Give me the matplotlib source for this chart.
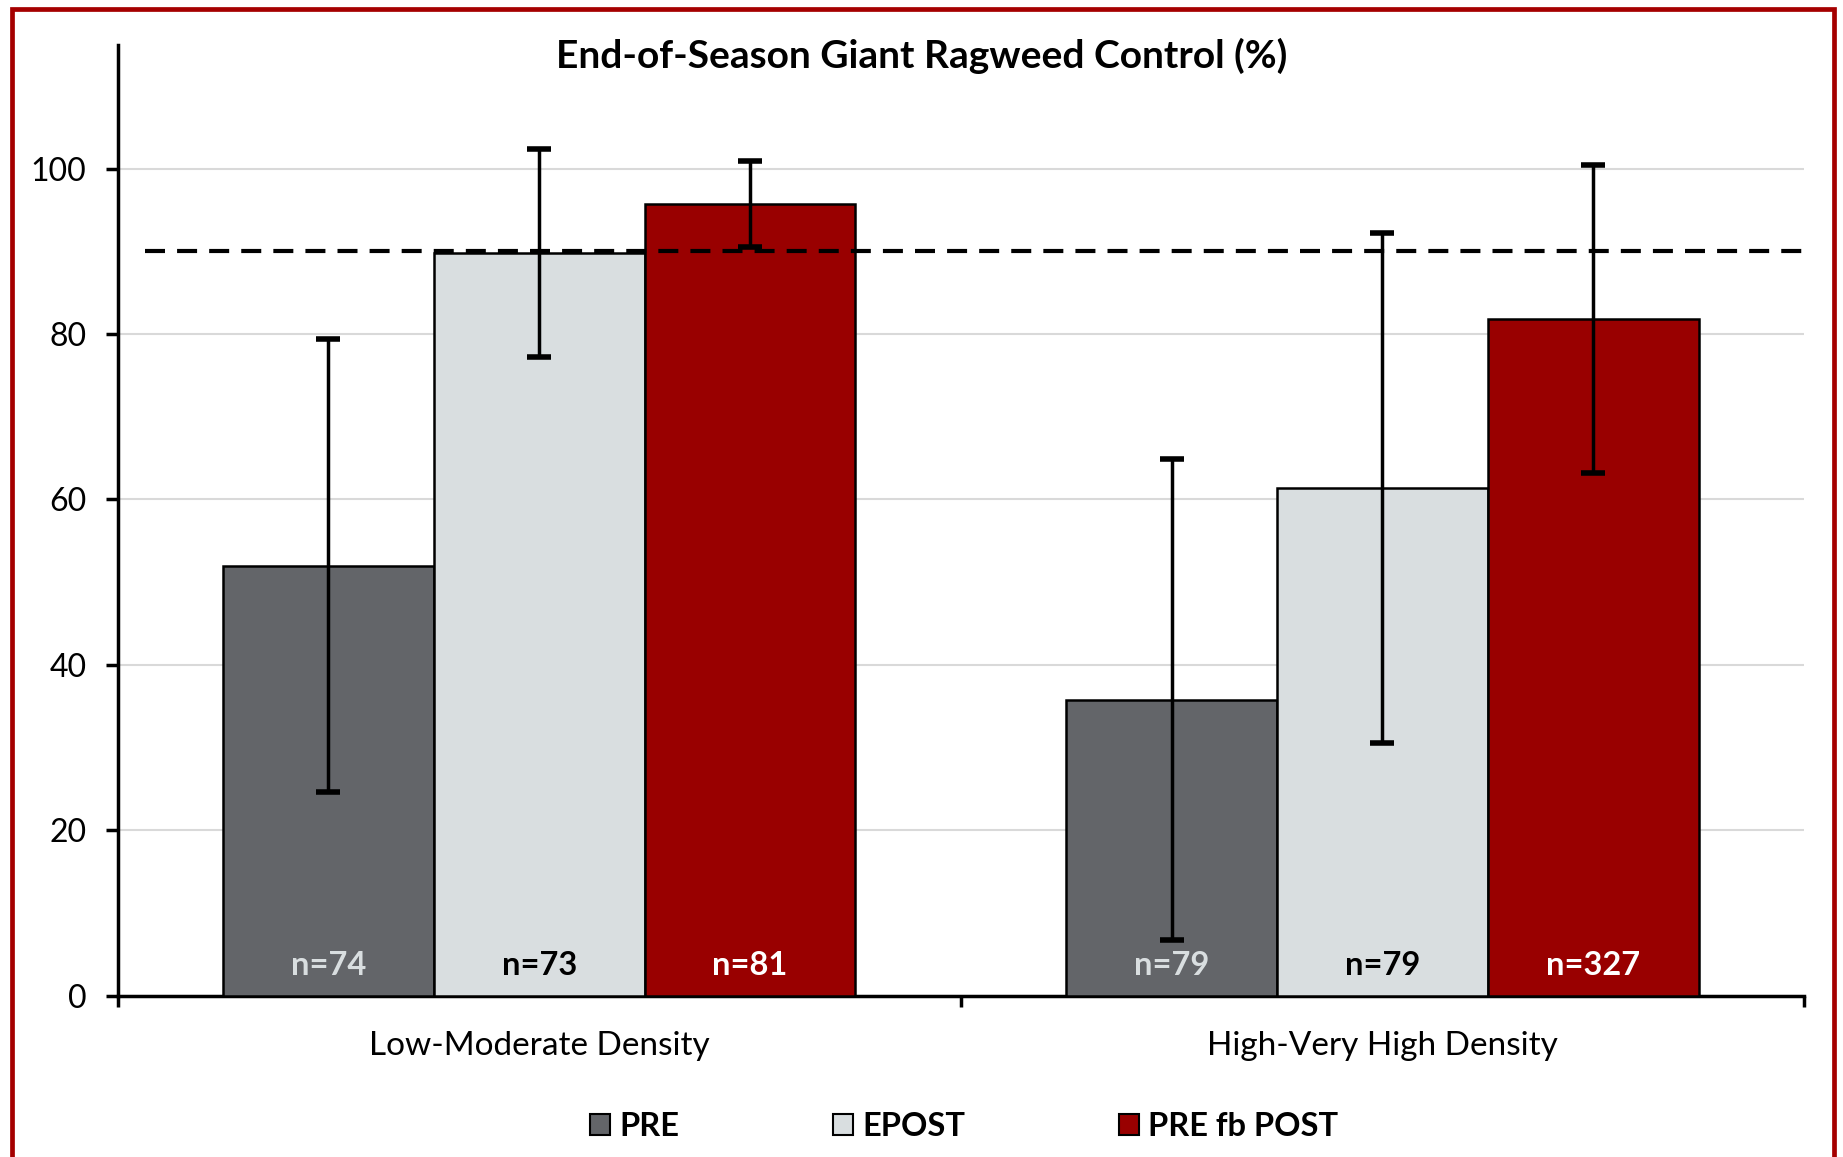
import matplotlib
matplotlib.use("Agg")
import matplotlib.pyplot as plt
from matplotlib.patches import Patch, Rectangle
import numpy as np

plt.rcParams['font.family'] = ['Lato', 'DejaVu Sans']

categories = ["Low-Moderate Density", "High-Very High Density"]
series = ["PRE", "EPOST", "PRE fb POST"]
values = {
    "PRE": [52.0, 35.8],
    "EPOST": [89.8, 61.4],
    "PRE fb POST": [95.7, 81.8],
}
errors = {
    "PRE": [27.4, 29.1],
    "EPOST": [12.6, 30.8],
    "PRE fb POST": [5.2, 18.6],
}
n_labels = {
    "PRE": ["n=74", "n=79"],
    "EPOST": ["n=73", "n=79"],
    "PRE fb POST": ["n=81", "n=327"],
}
threshold = 90
yticks = [0, 20, 40, 60, 80, 100]
title = "End-of-Season Giant Ragweed Control (%)"

colors = {"PRE": "#636569", "EPOST": "#d9dee0", "PRE fb POST": "#990000"}
n_colors = {"PRE": "#d9dee0", "EPOST": "#000000", "PRE fb POST": "#ffffff"}

fig = plt.figure(figsize=(18.43, 11.57), dpi=100)
ax = fig.add_axes([0.0638, 0.1395, 0.9151, 0.8219])

x = np.arange(len(categories))
width = 0.25
for i, s in enumerate(series):
    pos = x + (i - 1) * width
    ax.bar(pos, values[s], width, color=colors[s], edgecolor="black",
           linewidth=1.8, zorder=3)
    ax.errorbar(pos, values[s], yerr=errors[s], fmt="none", ecolor="black",
                elinewidth=2.5, capsize=8.5, capthick=4, zorder=4)
    for p, lab in zip(pos, n_labels[s]):
        ax.text(p, 3.7, lab, ha="center", va="center", fontsize=23.5,
                fontweight="bold", color=n_colors[s], zorder=5)

ax.plot([-0.468, 1.5], [threshold, threshold], color="black", lw=3,
        dashes=(4.8, 2.9), zorder=6)

ax.set_xlim(-0.5, 1.5)
ax.set_ylim(0, 115)
ax.set_yticks(yticks)
ax.set_yticklabels([str(t) for t in yticks], fontsize=23)
ax.set_xticks(x)
ax.set_xticklabels(categories, fontsize=24)
ax.set_xticks([-0.5, 0.5, 1.5], minor=True)
ax.tick_params(axis="x", which="major", length=0, pad=25.5)
ax.tick_params(axis="x", which="minor", length=8, width=2.5, direction="out")
ax.tick_params(axis="y", length=8.5, width=2.5, direction="out", pad=14)

ax.grid(axis="y", color="#d9d9d9", linewidth=1.5, zorder=0)
ax.set_axisbelow(True)
for side in ["top", "right"]:
    ax.spines[side].set_visible(False)
ax.spines["left"].set_linewidth(2.5)
ax.spines["bottom"].set_linewidth(2.5)

fig.text(0.5, 0.952, title, ha="center", va="center", fontsize=28,
         fontweight="bold")

handles = [Patch(facecolor=colors[s], edgecolor="black", linewidth=1.5,
                 label=s) for s in series]
leg = fig.legend(handles=handles, loc="center", ncol=3,
                 bbox_to_anchor=(0.5233, 0.026), frameon=False,
                 handlelength=0.61, handleheight=0.61, handletextpad=0.29,
                 columnspacing=4.7, prop={"weight": "bold", "size": 23.5})

border = Rectangle((0.0064, -0.05), 0.9886, 1.042, transform=fig.transFigure,
                   fill=False, edgecolor="#a50000", linewidth=3.4,
                   zorder=10)
fig.patches.append(border)

fig.savefig("out.png", dpi=100)
